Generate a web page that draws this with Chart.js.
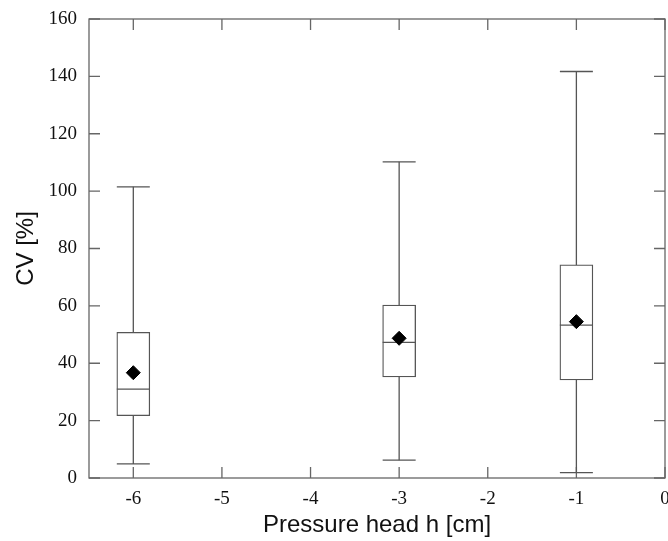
<!DOCTYPE html>
<html>
<head>
<meta charset="utf-8">
<script src="https://cdn.jsdelivr.net/npm/chart.js@4/dist/chart.umd.min.js"></script>
<style>
  html, body { margin: 0; padding: 0; background: #fff; }
  #wrap { width: 668px; height: 541px; }
</style>
</head>
<body>
<div id="wrap"><canvas id="chart"></canvas></div>
<script>
// pressure head positions and box statistics (CV %)
const heads = [-6, -3, -1];
const whiskerLow = [4.9, 6.2, 1.9];
const q1 = [21.7, 35.2, 34.2];
const median = [31.0, 47.3, 53.3];
const q3 = [50.8, 60.3, 74.3];
const whiskerHigh = [101.5, 110.2, 141.7];
const means = [36.7, 48.7, 54.5];

const xTicks = [-6, -5, -4, -3, -2, -1, 0];
const yTicks = [0, 20, 40, 60, 80, 100, 120, 140, 160];

const lineColor = '#555';
const boxWidth = 33;

// inward tick marks on all four sides plus the frame
const frame = {
  id: 'frame',
  beforeDatasetsDraw(chart) {
    const { ctx, chartArea: a, scales: { x, y } } = chart;
    const len = 11;
    ctx.save();
    ctx.strokeStyle = '#666';
    ctx.lineWidth = 1.3;
    ctx.beginPath();
    x.ticks.forEach((t) => {
      const px = x.getPixelForValue(t.value);
      ctx.moveTo(px, a.bottom); ctx.lineTo(px, a.bottom - len);
      ctx.moveTo(px, a.top); ctx.lineTo(px, a.top + len);
    });
    y.ticks.forEach((t) => {
      const py = y.getPixelForValue(t.value);
      ctx.moveTo(a.left, py); ctx.lineTo(a.left + len, py);
      ctx.moveTo(a.right, py); ctx.lineTo(a.right - len, py);
    });
    ctx.stroke();
    ctx.strokeRect(a.left, a.top, a.right - a.left, a.bottom - a.top);
    ctx.restore();
  }
};

const whiskerData = [];
heads.forEach((h, i) => {
  whiskerData.push({ x: h, y: whiskerLow[i] }, { x: h, y: whiskerHigh[i] }, { x: h, y: null });
});

new Chart(document.getElementById('chart'), {
  type: 'scatter',
  data: {
    datasets: [
      {
        type: 'line',
        data: whiskerData,
        borderColor: lineColor,
        borderWidth: 1.3,
        pointRadius: 0,
        spanGaps: false,
        order: 4,
      },
      {
        type: 'bar',
        data: heads.map((h, i) => ({ x: h, y: [q1[i], q3[i]] })),
        backgroundColor: '#fff',
        borderColor: lineColor,
        borderWidth: 1.3,
        borderSkipped: false,
        barThickness: boxWidth,
        order: 3,
      },
      {
        data: heads.map((h, i) => ({ x: h, y: median[i] }))
          .concat(heads.map((h, i) => ({ x: h, y: whiskerLow[i] })))
          .concat(heads.map((h, i) => ({ x: h, y: whiskerHigh[i] }))),
        pointStyle: 'line',
        pointRadius: boxWidth / 2,
        borderColor: lineColor,
        borderWidth: 1.3,
        order: 2,
      },
      {
        data: heads.map((h, i) => ({ x: h, y: means[i] })),
        pointStyle: 'rectRot',
        pointRadius: 7,
        backgroundColor: '#000',
        borderColor: '#000',
        borderWidth: 1,
        order: 1,
      },
    ],
  },
  options: {
    responsive: true,
    maintainAspectRatio: false,
    animation: false,
    events: [],
    layout: { autoPadding: false, padding: { top: 19, right: 3, left: 0, bottom: 0 } },
    plugins: { legend: { display: false }, tooltip: { enabled: false } },
    scales: {
      x: {
        type: 'linear',
        min: -6.5,
        max: 0,
        offset: false,
        grid: { display: false, drawTicks: false },
        border: { display: false },
        afterBuildTicks: (scale) => { scale.ticks = xTicks.map((v) => ({ value: v })); },
        afterFit: (scale) => { scale.height = 63; scale.paddingLeft = 0; scale.paddingRight = 0; },
        ticks: {
          padding: 10,
          color: '#111',
          font: { family: 'Liberation Serif', size: 19 },
          maxRotation: 0,
        },
        title: {
          display: true,
          text: 'Pressure head h [cm]',
          color: '#111',
          font: { family: 'Liberation Sans', size: 24 },
          padding: { top: 0, bottom: 1 },
        },
      },
      y: {
        min: 0,
        max: 160,
        grid: { display: false, drawTicks: false },
        border: { display: false },
        afterBuildTicks: (scale) => { scale.ticks = yTicks.map((v) => ({ value: v })); },
        afterFit: (scale) => { scale.width = 89; scale.paddingTop = 0; scale.paddingBottom = 0; },
        ticks: {
          padding: 12,
          color: '#111',
          font: { family: 'Liberation Serif', size: 19 },
        },
        title: {
          display: true,
          text: 'CV [%]',
          color: '#111',
          font: { family: 'Liberation Sans', size: 24 },
          padding: { top: 12, bottom: 0 },
        },
      },
    },
  },
  plugins: [frame],
});
</script>
</body>
</html>
